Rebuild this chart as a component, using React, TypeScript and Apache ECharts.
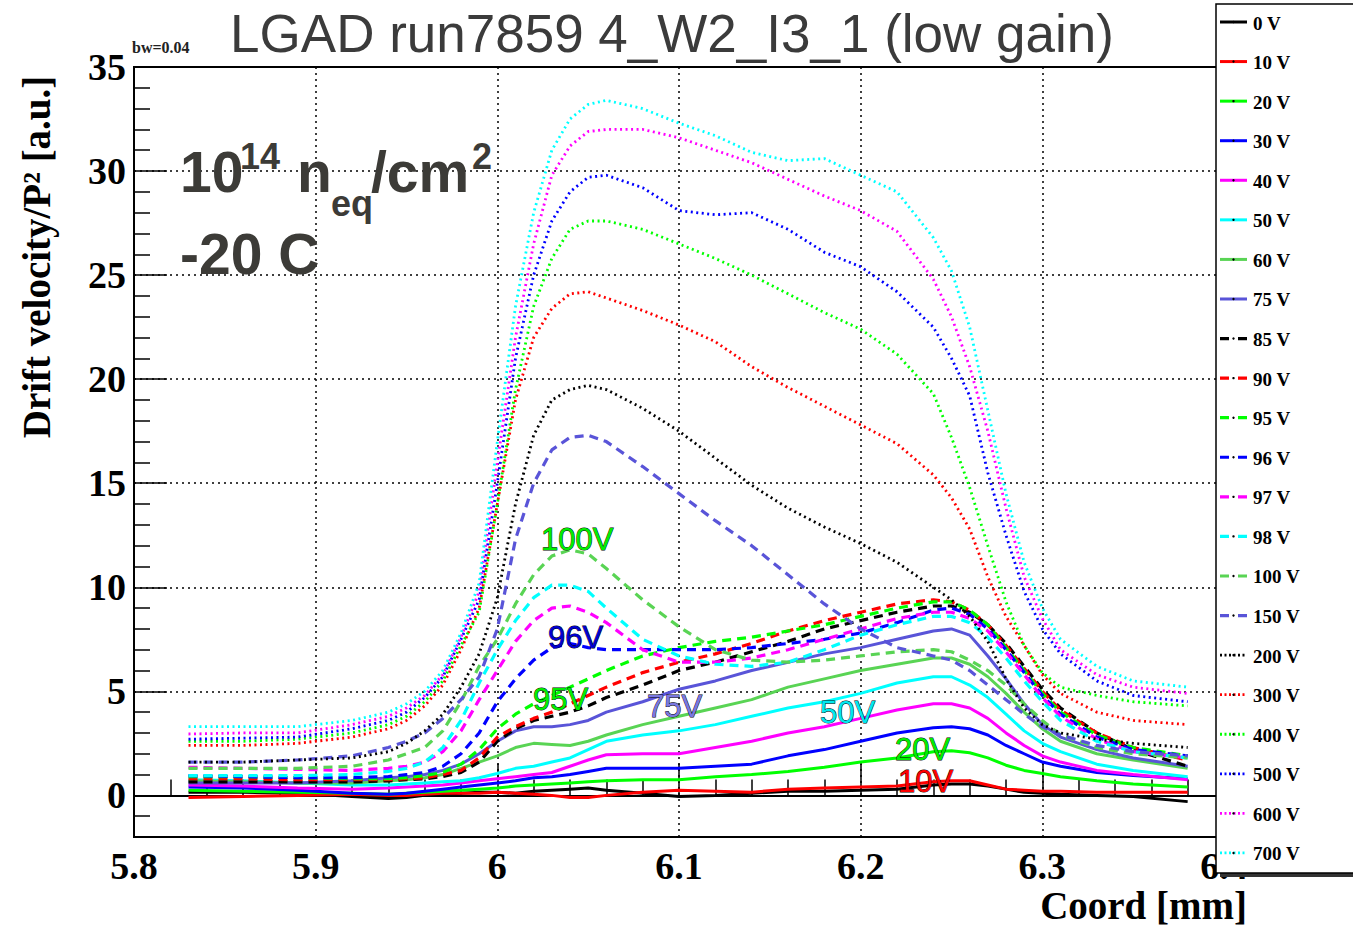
import React, { useEffect, useRef } from "react";
import * as echarts from "echarts";

// ---------- data ----------
const coord = [5.83, 5.86, 5.89, 5.92, 5.94, 5.95, 5.96, 5.97, 5.98, 5.99, 6.0, 6.01, 6.02, 6.03, 6.04, 6.05, 6.06, 6.08, 6.1, 6.12, 6.14, 6.16, 6.18, 6.2, 6.22, 6.24, 6.25, 6.26, 6.27, 6.28, 6.29, 6.3, 6.31, 6.33, 6.35, 6.38];

const v0V = [0.15, 0.15, 0.1, -0.05, -0.15, -0.1, 0.0, 0.05, 0.1, 0.15, 0.15, 0.1, 0.2, 0.25, 0.3, 0.35, 0.25, 0.1, -0.05, 0.0, 0.1, 0.2, 0.2, 0.25, 0.3, 0.5, 0.55, 0.55, 0.45, 0.3, 0.15, 0.1, 0.05, 0.0, -0.05, -0.3];
const v10V = [-0.1, -0.05, 0.0, 0.05, 0.0, 0.0, 0.05, 0.1, 0.1, 0.1, 0.15, 0.1, 0.05, 0.0, -0.1, -0.1, 0.0, 0.15, 0.25, 0.2, 0.15, 0.3, 0.35, 0.4, 0.45, 0.65, 0.7, 0.7, 0.5, 0.3, 0.25, 0.2, 0.2, 0.15, 0.15, 0.15];
const v20V = [0.25, 0.2, 0.15, 0.1, 0.05, 0.1, 0.15, 0.2, 0.25, 0.3, 0.35, 0.45, 0.5, 0.55, 0.6, 0.65, 0.7, 0.75, 0.75, 0.9, 1.0, 1.15, 1.35, 1.6, 1.8, 2.1, 2.15, 2.05, 1.8, 1.45, 1.2, 1.05, 0.9, 0.7, 0.55, 0.4];
const v30V = [0.4, 0.35, 0.25, 0.1, 0.05, 0.1, 0.2, 0.3, 0.4, 0.5, 0.6, 0.7, 0.85, 0.9, 1.0, 1.15, 1.3, 1.3, 1.3, 1.4, 1.5, 1.9, 2.2, 2.6, 3.0, 3.25, 3.3, 3.2, 2.9, 2.4, 2.0, 1.6, 1.4, 1.1, 0.95, 0.8];
const v40V = [0.5, 0.45, 0.35, 0.3, 0.35, 0.4, 0.45, 0.5, 0.6, 0.7, 0.8, 0.9, 1.0, 1.1, 1.4, 1.7, 1.95, 2.0, 2.0, 2.3, 2.6, 3.0, 3.3, 3.7, 4.1, 4.4, 4.4, 4.2, 3.7, 3.0, 2.4, 1.9, 1.6, 1.2, 1.0, 0.75];
const v50V = [0.75, 0.7, 0.6, 0.5, 0.5, 0.55, 0.6, 0.65, 0.7, 0.85, 1.05, 1.3, 1.4, 1.6, 1.8, 2.2, 2.6, 2.9, 3.1, 3.4, 3.8, 4.2, 4.5, 4.9, 5.4, 5.7, 5.7, 5.3, 4.7, 3.9, 3.1, 2.5, 2.1, 1.5, 1.2, 0.9];
const v60V = [0.7, 0.65, 0.6, 0.6, 0.7, 0.75, 0.85, 1.0, 1.3, 1.6, 1.9, 2.3, 2.5, 2.45, 2.4, 2.6, 2.9, 3.4, 3.8, 4.2, 4.6, 5.2, 5.6, 6.0, 6.3, 6.6, 6.6, 6.3, 5.7, 4.9, 4.0, 3.2, 2.6, 2.0, 1.7, 1.3];
const v75V = [0.6, 0.6, 0.6, 0.7, 0.85, 0.9, 1.0, 1.2, 1.5, 2.0, 2.6, 3.1, 3.3, 3.3, 3.4, 3.6, 4.0, 4.5, 5.1, 5.5, 6.0, 6.4, 6.8, 7.1, 7.5, 7.9, 8.0, 7.7, 6.7, 5.6, 4.4, 3.4, 2.8, 2.2, 1.8, 1.4];
const v85V = [0.65, 0.65, 0.65, 0.65, 0.7, 0.75, 0.8, 0.9, 1.1, 1.6, 2.6, 3.2, 3.6, 3.8, 4.0, 4.3, 4.7, 5.3, 6.0, 6.4, 6.9, 7.4, 8.0, 8.4, 8.8, 9.1, 9.1, 8.8, 8.2, 7.3, 6.2, 5.1, 4.2, 3.0, 2.2, 1.4];
const v90V = [0.8, 0.8, 0.75, 0.75, 0.75, 0.8, 0.85, 1.0, 1.2, 1.8, 2.8, 3.3, 3.7, 4.0, 4.4, 4.8, 5.2, 5.9, 6.4, 6.8, 7.3, 7.9, 8.4, 8.8, 9.2, 9.4, 9.3, 8.9, 8.2, 7.2, 6.1, 5.0, 4.1, 3.0, 2.3, 1.7];
const v95V = [0.9, 0.9, 0.85, 0.8, 0.8, 0.85, 0.95, 1.1, 1.5, 2.2, 3.2, 3.9, 4.4, 4.8, 5.2, 5.6, 6.0, 6.7, 7.1, 7.4, 7.6, 7.9, 8.2, 8.6, 9.0, 9.3, 9.3, 8.9, 8.2, 7.1, 6.0, 4.9, 4.0, 2.9, 2.3, 1.9];
const v96V = [0.95, 0.9, 0.85, 0.85, 0.9, 1.0, 1.1, 1.4, 2.0, 3.0, 4.5, 5.6, 6.5, 7.1, 7.3, 7.1, 7.0, 7.0, 7.0, 7.0, 7.1, 7.3, 7.5, 7.8, 8.3, 8.9, 9.0, 8.7, 8.0, 7.0, 5.9, 4.8, 3.9, 2.8, 2.2, 1.9];
const v97V = [1.35, 1.3, 1.25, 1.2, 1.3, 1.4, 1.6, 2.1, 3.1, 4.6, 6.0, 7.4, 8.4, 9.0, 9.1, 8.8, 8.3, 7.0, 6.4, 6.4, 6.6, 7.0, 7.5, 8.0, 8.5, 8.8, 8.8, 8.5, 7.9, 6.9, 5.8, 4.7, 3.8, 2.7, 2.1, 1.8];
const v98V = [0.95, 0.95, 0.95, 1.0, 1.15, 1.3, 1.6, 2.3, 3.6, 5.4, 7.0, 8.4, 9.5, 10.1, 10.1, 9.8, 9.0, 7.5, 6.7, 6.3, 6.2, 6.4, 7.0, 7.7, 8.2, 8.6, 8.6, 8.3, 7.6, 6.6, 5.5, 4.5, 3.6, 2.6, 2.1, 1.8];
const v100V = [1.3, 1.3, 1.3, 1.4, 1.7, 2.0, 2.3, 3.1, 4.5, 6.2, 7.5, 9.2, 10.6, 11.5, 11.8, 11.6, 10.9, 9.4, 8.1, 7.0, 6.5, 6.4, 6.5, 6.7, 6.9, 7.0, 6.9, 6.5, 6.0, 5.3, 4.4, 3.6, 2.9, 2.3, 2.0, 1.8];
const v150V = [1.6, 1.6, 1.7, 1.9, 2.3, 2.6, 3.0, 3.7, 4.6, 5.7, 8.0, 12.3, 15.0, 16.6, 17.2, 17.3, 17.0, 15.8, 14.5, 13.2, 12.0, 10.6, 9.2, 8.0, 7.1, 6.7, 6.5, 6.0, 5.3, 4.6, 3.9, 3.3, 2.9, 2.4, 2.1, 1.9];
const v200V = [1.6, 1.6, 1.7, 1.8, 2.1, 2.5, 3.1, 3.9, 5.2, 6.8, 9.5, 14.0, 17.3, 19.0, 19.5, 19.7, 19.5, 18.6, 17.5, 16.2, 14.9, 13.8, 12.9, 12.1, 11.2, 10.0, 9.4, 8.6, 7.4, 5.6, 4.2, 3.4, 3.0, 2.7, 2.5, 2.3];
const v300V = [2.4, 2.4, 2.5, 2.8, 3.2, 3.6, 4.3, 5.3, 7.0, 9.0, 14.0, 19.0, 22.0, 23.4, 24.1, 24.2, 23.9, 23.3, 22.6, 21.8, 20.6, 19.6, 18.7, 17.8, 16.9, 15.4, 14.3, 12.8, 10.5, 8.6, 7.2, 5.8, 4.9, 4.0, 3.6, 3.4];
const v400V = [2.6, 2.6, 2.7, 3.0, 3.4, 3.8, 4.5, 5.5, 7.2, 8.8, 14.0, 19.5, 23.5, 25.8, 27.2, 27.6, 27.6, 27.2, 26.5, 25.8, 25.0, 24.1, 23.2, 22.4, 21.2, 19.3, 17.2, 14.8, 12.0, 9.3, 7.2, 5.9, 5.2, 4.8, 4.5, 4.3];
const v500V = [2.7, 2.75, 2.8, 3.2, 3.6, 4.0, 4.7, 5.7, 7.5, 9.4, 15.0, 21.0, 25.0, 27.6, 29.0, 29.7, 29.8, 29.2, 28.1, 27.9, 28.0, 27.2, 26.1, 25.4, 24.2, 22.5, 21.0, 19.2, 15.5, 12.5, 9.8, 8.0, 6.8, 5.5, 4.8, 4.5];
const v600V = [2.95, 3.0, 3.0, 3.4, 3.8, 4.2, 4.8, 5.8, 7.6, 9.8, 16.0, 22.0, 26.5, 29.8, 31.2, 31.9, 32.0, 32.0, 31.6, 31.0, 30.4, 29.6, 28.8, 28.1, 27.1, 24.8, 23.0, 20.6, 17.5, 13.8, 10.5, 8.5, 7.0, 5.8, 5.2, 4.9];
const v700V = [3.3, 3.3, 3.3, 3.6, 4.0, 4.4, 5.0, 6.0, 7.8, 10.2, 17.0, 23.5, 28.0, 31.0, 32.5, 33.2, 33.4, 33.0, 32.3, 31.7, 30.9, 30.5, 30.6, 29.8, 29.0, 26.8, 25.2, 22.5, 18.5, 14.5, 11.2, 9.0, 7.5, 6.2, 5.5, 5.2];

const seriesNames = ["0 V", "10 V", "20 V", "30 V", "40 V", "50 V", "60 V", "75 V", "85 V", "90 V", "95 V", "96 V", "97 V", "98 V", "100 V", "150 V", "200 V", "300 V", "400 V", "500 V", "600 V", "700 V"];
const seriesValues = [v0V, v10V, v20V, v30V, v40V, v50V, v60V, v75V, v85V, v90V, v95V, v96V, v97V, v98V, v100V, v150V, v200V, v300V, v400V, v500V, v600V, v700V];

const xTickMin = 5.8;
const xTickMax = 6.4;
const yMin = -2;
const yMax = 35;

const curveLabels = ["100V", "96V", "95V", "75V", "50V", "20V", "10V"];

// ---------- styles ----------
const palette = ["#000000", "#ff0000", "#00ff00", "#0000ff", "#ff00ff", "#00ffff", "#59d454", "#5954d8"];
const labelColors = ["#00ee00", "#0000d0", "#00ee00", "#7a78e0", "#00e8f0", "#00ee00", "#ff0000"];
const labelPos = [
  [541, 539], [548, 637], [533, 699], [647, 706], [820, 712], [895, 749], [898, 781],
];

function dashFor(i: number): any {
  if (i < 8) return "solid";
  if (i < 16) return [9, 6];
  return [2, 3.5];
}
function widthFor(i: number) {
  if (i < 8) return 3;
  if (i < 16) return 3.2;
  return 2.8;
}

export default function App() {
  const ref = useRef<HTMLDivElement>(null);
  useEffect(() => {
    if (!ref.current) return;
    const chart = echarts.init(ref.current, null, { renderer: "svg" });
    const serif = "'Liberation Serif', 'Times New Roman', serif";
    const sans = "'Liberation Sans', Arial, sans-serif";
    const annColor = "#3c3b37";

    const series = seriesValues.map((vals, i) => ({
      name: seriesNames[i],
      type: "line",
      data: vals.map((v, k) => [coord[k], v]),
      symbol: "none",
      showSymbol: false,
      lineStyle: { color: palette[i % 8], width: widthFor(i), type: dashFor(i) },
      itemStyle: { color: palette[i % 8] },
      z: 2,
      clip: true,
    }));

    const graphics: any[] = [
      {
        type: "text", x: 672, y: 33, z: 10,
        style: { text: "LGAD run7859 4_W2_I3_1 (low gain)", font: `53px ${sans}`, fill: "#3b3b3b", align: "center", verticalAlign: "middle" },
      },
      {
        type: "text", x: 132, y: 47, z: 10,
        style: { text: "bw=0.04", font: `bold 16px ${serif}`, fill: "#222", align: "left", verticalAlign: "middle" },
      },
      {
        type: "text", x: 36, y: 257, rotation: Math.PI / 2, z: 10,
        style: { text: "Drift velocity/P² [a.u.]", font: `bold 39px ${serif}`, fill: "#000", align: "center", verticalAlign: "middle" },
      },
      {
        type: "text", x: 1247, y: 905, z: 10,
        style: { text: "Coord [mm]", font: `bold 39px ${serif}`, fill: "#000", align: "right", verticalAlign: "middle" },
      },
      // annotation 10^14 n_eq/cm^2
      { type: "text", x: 180, y: 172, z: 10, style: { text: "10", font: `bold 57px ${sans}`, fill: annColor, verticalAlign: "middle" } },
      { type: "text", x: 240, y: 156, z: 10, style: { text: "14", font: `bold 36px ${sans}`, fill: annColor, verticalAlign: "middle" } },
      { type: "text", x: 297, y: 172, z: 10, style: { text: "n", font: `bold 57px ${sans}`, fill: annColor, verticalAlign: "middle" } },
      { type: "text", x: 331, y: 203, z: 10, style: { text: "eq", font: `bold 36px ${sans}`, fill: annColor, verticalAlign: "middle" } },
      { type: "text", x: 371, y: 172, z: 10, style: { text: "/cm", font: `bold 57px ${sans}`, fill: annColor, verticalAlign: "middle" } },
      { type: "text", x: 472, y: 156, z: 10, style: { text: "2", font: `bold 36px ${sans}`, fill: annColor, verticalAlign: "middle" } },
      { type: "text", x: 180, y: 254, z: 10, style: { text: "-20 C", font: `bold 57px ${sans}`, fill: annColor, verticalAlign: "middle" } },
      // legend frame (with shadow)
      { type: "rect", z: 3, shape: { x: 1220, y: 8, width: 150, height: 869 }, style: { fill: "#333" } },
      { type: "rect", z: 3, shape: { x: 1216, y: 4, width: 150, height: 869 }, style: { fill: "#fff", stroke: "#000", lineWidth: 1.5 } },
    ];
    // legend entries
    seriesNames.forEach((name, i) => {
      const y = 22 + i * 39.57;
      graphics.push({
        type: "line", z: 4,
        shape: { x1: 1220, y1: y, x2: 1247, y2: y },
        style: {
          stroke: palette[i % 8], lineWidth: widthFor(i),
          lineDash: i < 8 ? null : i < 16 ? [9, 9] : [2, 2.5],
        },
      });
      graphics.push({ type: "circle", z: 4, shape: { cx: 1233.5, cy: y, r: 1.2 }, style: { fill: "#000" } });
      graphics.push({
        type: "text", x: 1253, y: y + 1, z: 4,
        style: { text: name, font: `bold 19px ${serif}`, fill: "#000", align: "left", verticalAlign: "middle" },
      });
    });
    curveLabels.forEach((t, i) => {
      graphics.push({
        type: "text", x: labelPos[i][0], y: labelPos[i][1], z: 10,
        style: {
          text: t, font: `31px ${sans}`, fill: labelColors[i], verticalAlign: "middle",
          stroke: "#000", lineWidth: 0.9,
        },
      });
    });

    chart.setOption({
      animation: false,
      backgroundColor: "#ffffff",
      grid: { left: 134, right: 129, top: 67, bottom: 89, show: true, borderColor: "#000", borderWidth: 2, backgroundColor: "transparent" },
      xAxis: {
        type: "value", min: xTickMin, max: xTickMax, interval: 0.1,
        axisLine: { show: true, lineStyle: { color: "#000", width: 2 } },
        axisTick: { show: true, inside: true, length: 32, lineStyle: { color: "#000", width: 1.5 } },
        minorTick: { show: true, splitNumber: 5, length: 16, lineStyle: { color: "#000", width: 1.5 } },
        splitLine: { show: true, lineStyle: { color: "#000", width: 1.5, type: [2, 4] } },
        axisLabel: {
          color: "#000", fontFamily: serif, fontWeight: "bold", fontSize: 38, margin: 10,
          formatter: (v: number) => String(parseFloat(v.toFixed(2))),
        },
      },
      yAxis: {
        type: "value", min: yMin, max: yMax, splitNumber: 7,
        axisLine: { show: true, lineStyle: { color: "#000", width: 2 } },
        axisTick: { show: true, inside: true, length: 33, lineStyle: { color: "#000", width: 1.5 } },
        minorTick: { show: true, splitNumber: 5, length: 16, lineStyle: { color: "#000", width: 1.5 } },
        splitLine: { show: true, lineStyle: { color: "#000", width: 1.5, type: [2, 4] } },
        axisLabel: {
          color: "#000", fontFamily: serif, fontWeight: "bold", fontSize: 38, margin: 8,
          formatter: (v: number) => (v < 0 ? "" : String(v)),
        },
      },
      series,
      graphic: graphics,
    } as any);
    return () => chart.dispose();
  }, []);
  return <div ref={ref} style={{ width: 1353, height: 926, position: "absolute", left: 0, top: 0 }} />;
}
